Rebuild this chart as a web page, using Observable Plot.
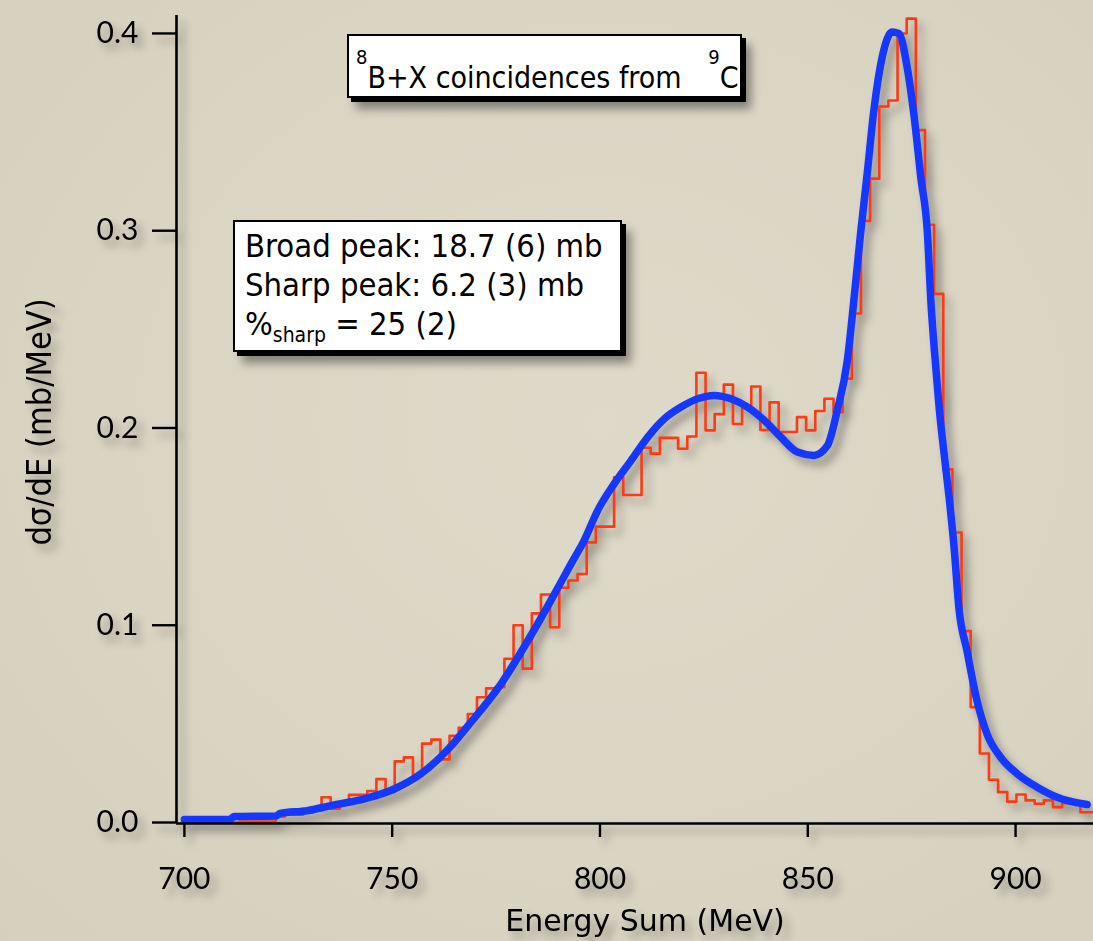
<!DOCTYPE html>
<html>
<head>
<meta charset="utf-8">
<script src="https://cdn.jsdelivr.net/npm/d3@7"></script>
<script src="https://cdn.jsdelivr.net/npm/@observablehq/plot@0.6"></script>
<style>
  html, body { margin: 0; padding: 0; background: #dbd5c4; }
  #wrap { position: relative; width: 1093px; height: 941px; overflow: hidden;
          background: radial-gradient(ellipse at 55% 45%, #dfd9c9 0%, #dad4c3 60%, #d5cfbd 100%); }
  #wrap svg { position: absolute; left: 0; top: 0; filter: drop-shadow(6px 7px 4px rgba(0,0,0,0.33)); }
  .box { position: absolute; background: #fff; border: 2.5px solid #000; box-sizing: border-box;
         box-shadow: 4px 4px 0 #000, 9px 11px 9px rgba(0,0,0,0.4);
         font-family: "DejaVu Sans Condensed", "DejaVu Sans", sans-serif; font-stretch: condensed;
         color: #000; white-space: nowrap; }
  .box .t { position: absolute; line-height: 1; }
  sup.s { font-size: 20px; vertical-align: 24px; line-height: 0; }
  sub.s { font-size: 21px; vertical-align: -7px; line-height: 0; }
</style>
</head>
<body>
<div id="wrap"></div>
<script>
// ---------------- data ----------------
const binStart = 700;     // MeV, left edge of first histogram bin
const binWidth = 2.2;     // MeV
// measured histogram (red), dσ/dE in mb/MeV, one value per bin
const histValues = [
  0, 0, 0, 0, 0, 0, 0.0005, 0.0005, 0.0005, 0.0005,
  0.003, 0.004, 0.004, 0.005, 0.006, 0.0128, 0.007, 0.009, 0.014, 0.014,
  0.016, 0.022, 0.0154, 0.031, 0.033, 0.024, 0.040, 0.042, 0.032, 0.044,
  0.048, 0.055, 0.0635, 0.068, 0.0686, 0.083, 0.100, 0.078, 0.106, 0.1156,
  0.099, 0.119, 0.1227, 0.126, 0.142, 0.150, 0.150, 0.175, 0.166, 0.166,
  0.190, 0.187, 0.195, 0.195, 0.1895, 0.1957, 0.228, 0.1988, 0.207, 0.222,
  0.202, 0.210, 0.221, 0.199, 0.213, 0.198, 0.198, 0.2055, 0.1988, 0.2086,
  0.2148, 0.208, 0.225, 0.258, 0.305, 0.3264, 0.363, 0.366, 0.400, 0.4075,
  0.351, 0.303, 0.268, 0.179, 0.147, 0.097, 0.0585, 0.035, 0.0217, 0.0154,
  0.0106, 0.0142, 0.0112, 0.0095, 0.0112, 0.0078, 0.0098, 0.0098, 0.0052, 0.0052
];
// fitted curve (blue)
const fitEnergy = [700, 711, 712, 722, 723, 729.6, 735.3, 743.3, 750.5, 757, 763.4, 769,
  776.2, 782.6, 788.2, 793, 796.2, 799.4, 803.4, 807.5, 811.5, 815.5, 819.5, 823.5, 827.5,
  831.5, 835.5, 839.5, 843.5, 847.5, 851.5, 854.7, 857.1, 859.5, 861.1, 862.7, 864.3, 865.9,
  867.9, 870.3, 871.9, 873.9, 875.6, 877.2, 878.8, 879.6, 880.4, 881.6, 882.8, 884.0, 885.2,
  886.4, 888.3, 890.7, 893.1, 896.4, 900.4, 905.2, 910, 917.2];
const fitValues = [0.0015, 0.0017, 0.003, 0.0033, 0.0046, 0.006, 0.0086, 0.012, 0.017, 0.0248,
  0.037, 0.051, 0.0703, 0.092, 0.1126, 0.131, 0.143, 0.158, 0.1717, 0.1836, 0.1954, 0.2047,
  0.2106, 0.2148, 0.2165, 0.2148, 0.2106, 0.2039, 0.1954, 0.1878, 0.1861, 0.191, 0.209, 0.234,
  0.265, 0.2985, 0.329, 0.361, 0.388, 0.4007, 0.400, 0.383, 0.3577, 0.327, 0.2985, 0.265,
  0.241, 0.2106, 0.187, 0.165, 0.1396, 0.108, 0.0872, 0.0619, 0.045, 0.0331, 0.0247, 0.0179,
  0.0128, 0.0091];
const xTicks = [700, 750, 800, 850, 900];
const yTicks = [0.0, 0.1, 0.2, 0.3, 0.4];
const xTitle = "Energy Sum (MeV)";
const yTitle = "dσ/dE (mb/MeV)";

// ---------------- build tables ----------------
const histPts = histValues.map((v, i) => ({e: binStart + i * binWidth, v}));
histPts.push({e: binStart + histValues.length * binWidth, v: histValues[histValues.length - 1]});
const fitPts = fitEnergy.map((e, i) => ({e, v: fitValues[i]}));

const xMin = 698.1, xMax = 918.75, yMin = -0.0005, yMax = 0.4091;
const red = "#ff3a12", blue = "#1438ff";

const chart = Plot.plot({
  width: 1093, height: 941,
  marginLeft: 176, marginRight: 0, marginTop: 15, marginBottom: 118,
  style: {background: "transparent", overflow: "visible", fontFamily: "Lato, sans-serif", color: "#000"},
  x: {domain: [xMin, xMax]},
  y: {domain: [yMin, yMax]},
  marks: [
    Plot.line(histPts, {x: "e", y: "v", curve: "step-after", stroke: red, strokeWidth: 2.6, clip: true}),
    Plot.line(fitPts, {x: "e", y: "v", curve: "monotone-x", stroke: blue, strokeWidth: 7.5, strokeLinejoin: "round", strokeLinecap: "round", clip: true}),
    Plot.ruleX([xMin], {stroke: "#000", strokeWidth: 2.6}),
    Plot.ruleY([yMin], {stroke: "#000", strokeWidth: 2.6}),
    Plot.axisX({ticks: xTicks, tickFormat: d => String(d), tickSize: 14, tickPadding: 30, fontSize: 30,
                strokeWidth: 2.4, label: null, fontFamily: "Lato, sans-serif", fill: "#000"}),
    Plot.axisY({ticks: yTicks, tickFormat: d => d.toFixed(1), tickSize: 24, tickPadding: 14, fontSize: 30,
                strokeWidth: 2.4, label: null, fontFamily: "Lato, sans-serif", fill: "#000"})
  ]
});

const svg = d3.select(chart);
svg.append("text")
  .attr("transform", "translate(51,422) rotate(-90)")
  .attr("text-anchor", "middle")
  .style("font-family", "'DejaVu Sans Condensed', 'DejaVu Sans', sans-serif")
  .style("font-stretch", "condensed")
  .style("font-size", "34px")
  .attr("fill", "#000")
  .text(yTitle);
svg.append("text")
  .attr("x", 645).attr("y", 931)
  .attr("text-anchor", "middle")
  .style("font-family", "'DejaVu Sans', sans-serif")
  .style("font-size", "30px")
  .attr("fill", "#000")
  .text(xTitle);

const wrap = document.getElementById("wrap");
wrap.appendChild(chart);

// annotation boxes
const b1 = document.createElement("div");
b1.className = "box";
Object.assign(b1.style, {left: "347px", top: "34px", width: "395px", height: "64px"});
b1.innerHTML = '<div class="t" style="left:7px;top:21px;font-size:30px;"><sup class="s">8</sup>B+X coincidences from <sup class="s" style="margin-left:18px">9</sup>C</div>';
wrap.appendChild(b1);

const b2 = document.createElement("div");
b2.className = "box";
Object.assign(b2.style, {left: "233px", top: "220px", width: "389px", height: "132px"});
b2.innerHTML =
  '<div class="t" style="left:10px;top:5px;font-size:32.5px;line-height:39px;">' +
  'Broad peak: 18.7 (6) mb<br>Sharp peak: 6.2 (3) mb<br>%<sub class="s">sharp</sub> = 25 (2)</div>';
wrap.appendChild(b2);
</script>
</body>
</html>
